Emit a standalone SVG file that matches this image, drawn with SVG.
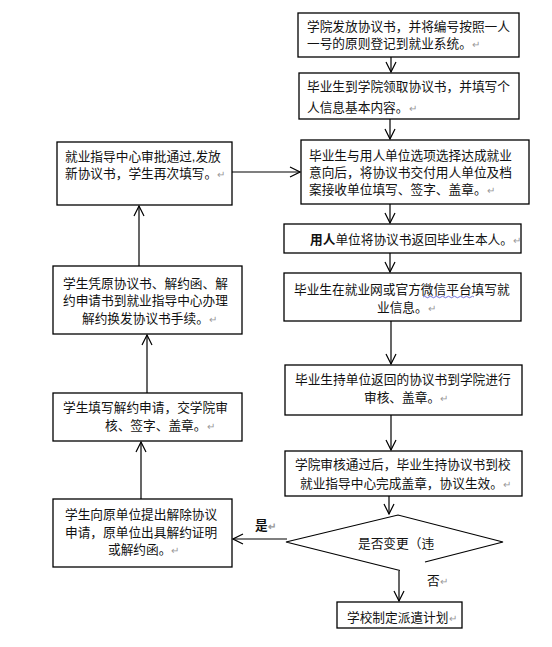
<svg xmlns="http://www.w3.org/2000/svg" width="552" height="647" viewBox="0 0 552 647">
<defs>
<style>
.box{fill:#fff;stroke:#000;stroke-width:1.3}
.t{font-family:"Liberation Sans","Noto Sans CJK SC",sans-serif;font-size:12.7px;fill:#111}
.m{fill:#999;font-size:10px}
.c{fill:none;stroke:#000;stroke-width:1.2}
</style>
<marker id="ah" viewBox="0 0 12 12" refX="11" refY="6" markerWidth="12" markerHeight="12" markerUnits="userSpaceOnUse" orient="auto">
<path d="M1,1 L11,6 L1,11" fill="none" stroke="#000" stroke-width="1.2"/>
</marker>
</defs>
<rect width="552" height="647" fill="#fff"/>
<g id="connectors">
<line class="c" x1="391" y1="57" x2="391" y2="72" marker-end="url(#ah)"/>
<line class="c" x1="390" y1="119" x2="390" y2="139" marker-end="url(#ah)"/>
<line class="c" x1="390" y1="204" x2="390" y2="223" marker-end="url(#ah)"/>
<line class="c" x1="390" y1="253" x2="390" y2="272" marker-end="url(#ah)"/>
<line class="c" x1="391" y1="321" x2="391" y2="364" marker-end="url(#ah)"/>
<line class="c" x1="391" y1="415" x2="391" y2="450" marker-end="url(#ah)"/>
<line class="c" x1="389" y1="496" x2="389" y2="514" marker-end="url(#ah)"/>
<line class="c" x1="399" y1="571" x2="399" y2="601" marker-end="url(#ah)"/>
<line class="c" x1="287" y1="539" x2="233" y2="539" marker-end="url(#ah)"/>
<line class="c" x1="141" y1="499" x2="141" y2="442" marker-end="url(#ah)"/>
<line class="c" x1="147" y1="393" x2="147" y2="335" marker-end="url(#ah)"/>
<line class="c" x1="139" y1="266" x2="139" y2="206" marker-end="url(#ah)"/>
<line class="c" x1="232" y1="172" x2="300" y2="172" marker-end="url(#ah)"/>
</g>
<g id="n1">
<rect class="box" x="298" y="13" width="221" height="44"/>
<text class="t" x="307" y="30.5">学院发放协议书，并将编号按照一人</text>
<text class="t" x="307" y="48">一号的原则登记到就业系统。<tspan class="m">↵</tspan></text>
</g>
<g id="n2">
<rect class="box" x="299" y="73" width="220" height="46"/>
<text class="t" x="307" y="90.5">毕业生到学院领取协议书，并填写个</text>
<text class="t" x="307" y="112">人信息基本内容。<tspan class="m">↵</tspan></text>
</g>
<g id="n3">
<rect class="box" x="301" y="140" width="228" height="64"/>
<text class="t" x="309" y="159.5">毕业生与用人单位选项选择达成就业</text>
<text class="t" x="309" y="176.5">意向后，将协议书交付用人单位及档</text>
<text class="t" x="309" y="193.5">案接收单位填写、签字、盖章。<tspan class="m">↵</tspan></text>
</g>
<g id="n4">
<rect class="box" x="284" y="224" width="237" height="29"/>
<text class="t" x="310" y="243.5"><tspan font-weight="bold">用人</tspan>单位将协议书返回毕业生本人。<tspan class="m">↵</tspan></text>
</g>
<g id="n5">
<rect class="box" x="284" y="273" width="237" height="48"/>
<text class="t" x="294" y="293.5">毕业生在就业网或官方微信平台填写就</text>
<path d="M423,297 q1.5,-1.5 3,0 t3,0 t3,0 t3,0 t3,0 t3,0 t3,0 t3,0 t3,0 t3,0 t3,0 t3,0 t3,0 t3,0 t3,0 t3,0 t3,0" fill="none" stroke="#33c" stroke-width="0.7"/>
<text class="t" x="377" y="311.5">业信息。<tspan class="m">↵</tspan></text>
</g>
<g id="n6">
<rect class="box" x="285" y="365" width="237" height="50"/>
<text class="t" x="295" y="383.5">毕业生持单位返回的协议书到学院进行</text>
<text class="t" x="364" y="401.5">审核、盖章。<tspan class="m">↵</tspan></text>
</g>
<g id="n7">
<rect class="box" x="285" y="451" width="237" height="45"/>
<text class="t" x="295" y="468.5">学院审核通过后，毕业生持协议书到校</text>
<text class="t" x="300" y="487.5">就业指导中心完成盖章，协议生效。<tspan class="m">↵</tspan></text>
</g>
<g id="decision">
<path d="M400,570.5 L286,542 L398,515 L503,542 L425,562" fill="none" stroke="#000" stroke-width="1.2"/>
<text class="t" x="358" y="547.5">是否变更（违</text>
</g>
<g id="label-no">
<text class="t" x="427" y="584.5">否<tspan class="m">↵</tspan></text>
</g>
<g id="label-yes">
<text class="t" x="255" y="529.5" font-weight="bold">是<tspan class="m">↵</tspan></text>
</g>
<g id="n8">
<rect class="box" x="337" y="602" width="125" height="26"/>
<text class="t" x="347" y="621.5">学校制定派遣计划<tspan class="m">↵</tspan></text>
</g>
<g id="l1">
<rect class="box" x="57" y="142" width="175" height="63"/>
<text class="t" x="65" y="160.5">就业指导中心审批通过,发放</text>
<text class="t" x="65" y="177.5">新协议书，学生再次填写。<tspan class="m">↵</tspan></text>
</g>
<g id="l2">
<rect class="box" x="53" y="266" width="189" height="68"/>
<text class="t" x="63" y="287.5">学生凭原协议书、解约函、解</text>
<text class="t" x="63" y="304.5">约申请书到就业指导中心办理</text>
<text class="t" x="82" y="322.5">解约换发协议书手续。<tspan class="m">↵</tspan></text>
</g>
<g id="l3">
<rect class="box" x="53" y="393" width="189" height="48"/>
<text class="t" x="63" y="411.5">学生填写解约申请，交学院审</text>
<text class="t" x="105" y="429.5">核、签字、盖章。<tspan class="m">↵</tspan></text>
</g>
<g id="l4">
<rect class="box" x="53" y="499" width="179" height="68"/>
<text class="t" x="65" y="518.5">学生向原单位提出解除协议</text>
<text class="t" x="65" y="536.5">申请，原单位出具解约证明</text>
<text class="t" x="108" y="553.5">或解约函。<tspan class="m">↵</tspan></text>
</g>
</svg>
